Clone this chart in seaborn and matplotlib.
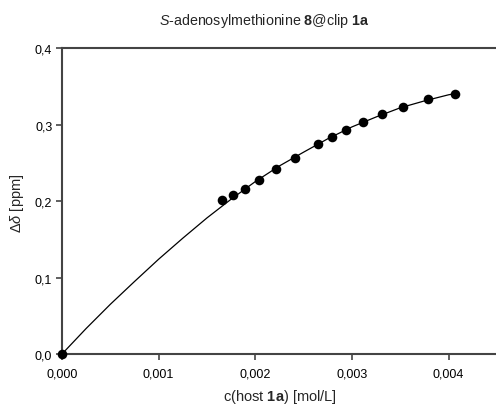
import matplotlib
matplotlib.use("Agg")
import matplotlib.pyplot as plt
import seaborn as sns
import pandas as pd
from matplotlib.ticker import FuncFormatter

# measured data
conc = [0.0, 0.001658, 0.001768, 0.001892, 0.002037, 0.002210, 0.002410, 0.002647,
        0.002789, 0.002937, 0.003113, 0.003306, 0.003523, 0.003782, 0.004067]
shift = [0.0, 0.2013, 0.2078, 0.2157, 0.2275, 0.2414, 0.2562, 0.2741,
         0.2833, 0.2932, 0.3029, 0.3133, 0.3229, 0.3329, 0.3403]

# fitted curve
fit_conc = [0.0, 0.00025, 0.0005, 0.00075, 0.001, 0.00125, 0.0015, 0.00175, 0.002,
            0.00225, 0.0025, 0.00275, 0.003, 0.00325, 0.0035, 0.00375, 0.004, 0.004067]
fit_shift = [0.0, 0.0334, 0.065, 0.0948, 0.124, 0.1515, 0.178, 0.2025, 0.2255,
             0.246, 0.264, 0.2815, 0.297, 0.310, 0.322, 0.331, 0.339, 0.3405]

xticks = [0.0, 0.001, 0.002, 0.003, 0.004]
yticks = [0.0, 0.1, 0.2, 0.3, 0.4]

sns.set_style("ticks")
plt.rcParams['font.family'] = ['Liberation Sans', 'DejaVu Sans']
plt.rcParams['mathtext.fontset'] = 'custom'
plt.rcParams['mathtext.rm'] = 'Liberation Sans'
plt.rcParams['mathtext.it'] = 'Liberation Sans:italic'
plt.rcParams['mathtext.bf'] = 'Liberation Sans:bold'

fig = plt.figure(figsize=(4.96, 4.06), dpi=100)
ax = fig.add_axes([0.125, 0.1256, 0.877, 0.7534])

df_fit = pd.DataFrame({"x": fit_conc, "y": fit_shift})
df_pts = pd.DataFrame({"x": conc, "y": shift})
sns.lineplot(data=df_fit, x="x", y="y", ax=ax, color="black", linewidth=0.9, sort=False)
sns.scatterplot(data=df_pts, x="x", y="y", ax=ax, color="black", s=48,
                edgecolor="black", linewidth=0, zorder=5, clip_on=False)

ax.set_xlim(0, 0.0045)
ax.set_ylim(0, 0.4)
ax.set_xticks(xticks)
ax.set_yticks(yticks)
ax.xaxis.set_major_formatter(FuncFormatter(lambda v, p: f"{v:.3f}".replace(".", ",")))
ax.yaxis.set_major_formatter(FuncFormatter(lambda v, p: f"{v:.1f}".replace(".", ",")))

for side in ["left", "bottom", "top"]:
    ax.spines[side].set_color("#444444")
    ax.spines[side].set_linewidth(1.5)
ax.spines["right"].set_visible(False)
ax.tick_params(axis="x", direction="out", length=4, width=1.2, color="#444444",
               labelsize=9, labelcolor="black", pad=6)
ax.tick_params(axis="y", direction="out", length=4, width=1.2, color="#444444",
               labelsize=9, labelcolor="black", pad=3)

ax.set_xlabel(r"c(host $\mathbf{1a}$) [mol/L]", fontsize=10.5, va="center")
ax.xaxis.set_label_coords(0.501, -0.138)
ax.set_ylabel(r"$\Delta\mathit{\delta}$ [ppm]", fontsize=10.5, va="center")
ax.yaxis.set_label_coords(-0.103, 0.497)
fig.text(264 / 496, 1 - 21 / 406,
         r"$\mathit{S}$-adenosylmethionine $\mathbf{8}$@clip $\mathbf{1a}$",
         ha="center", va="center", fontsize=10.3)

fig.savefig("out.png", dpi=100)
